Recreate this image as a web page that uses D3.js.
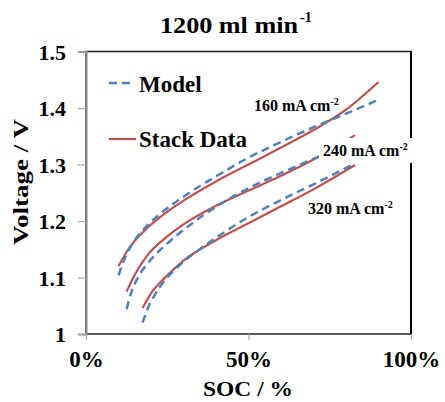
<!DOCTYPE html>
<html><head><meta charset="utf-8">
<script src="https://cdn.jsdelivr.net/npm/d3@7"></script>
<style>body{margin:0;background:#fff}svg{display:block}</style>
</head><body>
<script>
const xTicks = [0, 50, 100];
const yTicks = [1, 1.1, 1.2, 1.3, 1.4, 1.5];
const seriesNames = ["Model", "Stack Data"];
const currentLabels = ["160 mA cm", "240 mA cm", "320 mA cm"];

// SOC (%) and voltage (V)
const model160Soc = [10, 12, 14, 18, 24, 30, 40, 50, 60, 70, 80, 89.4];
const model160V   = [1.104, 1.135, 1.157, 1.187, 1.218, 1.243, 1.279, 1.312, 1.340, 1.366, 1.390, 1.413];
const stack160Soc = [10, 13, 18, 24, 30, 40, 50, 60, 70, 80, 90];
const stack160V   = [1.120, 1.150, 1.183, 1.212, 1.236, 1.270, 1.300, 1.330, 1.361, 1.397, 1.446];
const model240Soc = [12.5, 14, 16, 20, 25, 32, 40, 50, 60, 70, 80];
const model240V   = [1.044, 1.075, 1.100, 1.132, 1.160, 1.193, 1.225, 1.258, 1.285, 1.310, 1.333];
const stack240Soc = [12.5, 15, 19, 24, 30, 40, 50, 60, 71, 82.8];
const stack240V   = [1.075, 1.105, 1.140, 1.168, 1.194, 1.227, 1.254, 1.280, 1.312, 1.352];
const model320Soc = [17.4, 19, 21, 24, 29, 35, 42, 50, 60, 70, 82.8];
const model320V   = [1.020, 1.045, 1.068, 1.093, 1.123, 1.150, 1.178, 1.207, 1.237, 1.265, 1.302];
const stack320Soc = [17.4, 20, 24, 30, 40, 50, 60, 70, 82.8];
const stack320V   = [1.046, 1.072, 1.098, 1.130, 1.166, 1.196, 1.226, 1.256, 1.299];

const FONT = "'Liberation Serif', 'Times New Roman', 'DejaVu Serif', serif";
const W = 445, H = 402;
const svg = d3.select("body").append("svg").attr("width", W).attr("height", H)
  .attr("font-family", FONT).attr("font-weight", "bold");
const x = d3.scaleLinear().domain([0, 100]).range([86, 411]);
const y = d3.scaleLinear().domain([1, 1.5]).range([334, 51.5]);

function T(sel) { return sel.attr("font-family", FONT).attr("font-weight", "bold").attr("fill", "#000"); }

// frame
svg.append("rect").attr("x", x(0)).attr("y", y(1.5)).attr("width", x(100) - x(0)).attr("height", y(1) - y(1.5))
  .attr("fill", "none").attr("stroke", "#222").attr("stroke-width", 1.5);
svg.append("line").attr("x1", x(100)).attr("x2", x(100)).attr("y1", y(1.5)).attr("y2", y(1)).attr("stroke", "#000").attr("stroke-width", 2);

// axes
const yAxis = d3.axisLeft(y).tickValues(yTicks).tickSize(8).tickFormat(d => d3.format("")(d));
const gy = svg.append("g").attr("transform", `translate(${x(0)},0)`).call(yAxis);
gy.attr("font-family", FONT);
gy.select(".domain").attr("stroke", "#888").attr("stroke-width", 2);
gy.selectAll(".tick line").attr("stroke", "#aaa").attr("stroke-width", 1.2);
T(gy.selectAll(".tick text")).attr("x", -20).attr("dy", "0.35em").attr("font-size", 22);

const xAxis = d3.axisBottom(x).tickValues(xTicks).tickSize(6).tickFormat(d => d + "%");
const gx = svg.append("g").attr("transform", `translate(0,${y(1)})`).call(xAxis);
gx.attr("font-family", FONT);
gx.select(".domain").remove();
gx.selectAll(".tick line").attr("stroke", "#aaa").attr("stroke-width", 1.2);
T(gx.selectAll(".tick text")).attr("y", 33).attr("dy", 0).attr("font-size", 23);

// curves
const line = d3.line().x(d => x(d[0])).y(d => y(d[1])).curve(d3.curveMonotoneX);
const zip = (a, b) => a.map((v, i) => [v, b[i]]);
const stacks = [[stack160Soc, stack160V], [stack240Soc, stack240V], [stack320Soc, stack320V]];
const models = [[model160Soc, model160V], [model240Soc, model240V], [model320Soc, model320V]];
const red = "#C0504D", blue = "#4F81BD";
stacks.forEach(([s, v]) => svg.append("path").attr("d", line(zip(s, v))).attr("fill", "none").attr("stroke", red).attr("stroke-width", 2.2));
models.forEach(([s, v]) => svg.append("path").attr("d", line(zip(s, v))).attr("fill", "none").attr("stroke", blue).attr("stroke-width", 2.5).attr("stroke-dasharray", "8,5"));

// labels of current densities
const labelPos = [[254, 111], [323, 156], [308, 214]];
currentLabels.forEach((t, i) => {
  const [lx, ly] = labelPos[i];
  if (i === 1) svg.append("rect").attr("x", lx - 4).attr("y", ly - 18).attr("width", 96).attr("height", 25).attr("fill", "#fff");
  const tx = T(svg.append("text")).attr("x", lx).attr("y", ly).attr("font-size", 16);
  tx.append("tspan").text(t);
  tx.append("tspan").attr("dy", -6).attr("font-size", 10).text("-2");
});

// legend
svg.append("line").attr("x1", 109).attr("x2", 134).attr("y1", 83).attr("y2", 83).attr("stroke", blue).attr("stroke-width", 2.5).attr("stroke-dasharray", "8,5");
T(svg.append("text")).attr("x", 139).attr("y", 92).attr("font-size", 23).text(seriesNames[0]);
svg.append("line").attr("x1", 109).attr("x2", 136).attr("y1", 139).attr("y2", 139).attr("stroke", red).attr("stroke-width", 2.2);
T(svg.append("text")).attr("x", 139).attr("y", 147).attr("font-size", 23).text(seriesNames[1]);

// title
T(svg.append("text")).attr("x", 160).attr("y", 33).attr("font-size", 24).attr("textLength", 138).attr("lengthAdjust", "spacingAndGlyphs").text("1200 ml min");
T(svg.append("text")).attr("x", 300).attr("y", 22).attr("font-size", 14).text("-1");

// axis titles
T(svg.append("text")).attr("x", 248).attr("y", 396).attr("text-anchor", "middle").attr("font-size", 22).attr("textLength", 90).attr("lengthAdjust", "spacingAndGlyphs").text("SOC / %");
T(svg.append("text")).attr("transform", "translate(28,182) rotate(-90)").attr("text-anchor", "middle").attr("font-size", 22).attr("textLength", 126).attr("lengthAdjust", "spacingAndGlyphs").text("Voltage / V");
</script>
</body></html>
